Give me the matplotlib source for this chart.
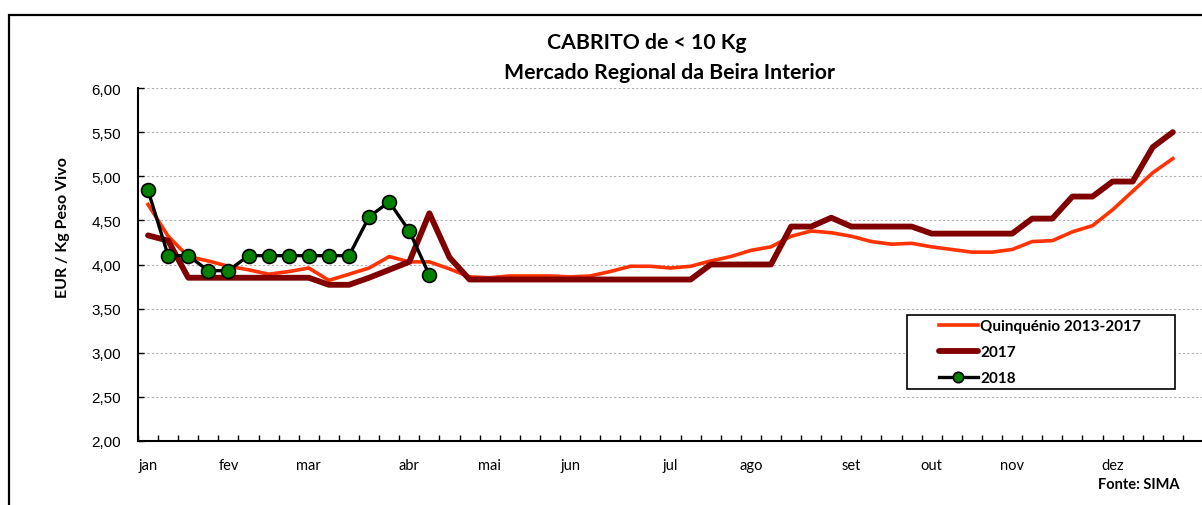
import matplotlib
matplotlib.use("Agg")
import matplotlib.pyplot as plt
from matplotlib.patches import Rectangle
from matplotlib.ticker import FuncFormatter, FixedLocator

# weekly prices (EUR / Kg peso vivo), week 1 .. 52
quinquenio = [4.68, 4.32, 4.09, 4.04, 3.98, 3.94, 3.89, 3.92, 3.96, 3.82,
              3.89, 3.96, 4.09, 4.03, 4.03, 3.95, 3.86, 3.85, 3.87, 3.87,
              3.87, 3.86, 3.87, 3.92, 3.98, 3.98, 3.96, 3.98, 4.04, 4.09,
              4.16, 4.20, 4.32, 4.38, 4.36, 4.32, 4.26, 4.23, 4.24, 4.20,
              4.17, 4.14, 4.14, 4.17, 4.26, 4.27, 4.37, 4.44, 4.62, 4.83,
              5.04, 5.20]
ano_2017 = [4.33, 4.27, 3.85, 3.85, 3.85, 3.85, 3.85, 3.85, 3.85, 3.77,
            3.77, 3.85, 3.94, 4.03, 4.58, 4.08, 3.83, 3.83, 3.83, 3.83,
            3.83, 3.83, 3.83, 3.83, 3.83, 3.83, 3.83, 3.83, 4.00, 4.00,
            4.00, 4.00, 4.43, 4.43, 4.53, 4.43, 4.43, 4.43, 4.43, 4.35,
            4.35, 4.35, 4.35, 4.35, 4.52, 4.52, 4.77, 4.77, 4.94, 4.94,
            5.33, 5.50]
ano_2018 = [4.84, 4.10, 4.10, 3.93, 3.93, 4.10, 4.10, 4.10, 4.10, 4.10,
            4.10, 4.54, 4.71, 4.38, 3.88]

n_weeks = 53
month_labels = ["jan", "fev", "mar", "abr", "mai", "jun",
                "jul", "ago", "set", "out", "nov", "dez"]
month_weeks = [0, 4, 8, 13, 17, 21, 26, 30, 35, 39, 43, 48]

W, H = 1202, 506
fig = plt.figure(figsize=(W / 100, H / 100), dpi=100)
ax = fig.add_axes([138 / W, 64 / H, 1065 / W, 353 / H])

# outer chart frame (right/bottom edges cut off like the original)
fig.patches.append(Rectangle((9 / W, -0.1), 1.2, 1.1 - 16 / H, transform=fig.transFigure,
                             fill=False, edgecolor="black", linewidth=1.6))

ax.plot(range(len(quinquenio)), quinquenio, color="#FF3300", lw=2.6,
        label="Quinquénio 2013-2017", zorder=3)
ax.plot(range(len(ano_2017)), ano_2017, color="#800000", lw=4.2,
        label="2017", zorder=4, solid_capstyle="round")
ax.plot(range(len(ano_2018)), ano_2018, color="black", lw=2.4, marker="o",
        markersize=10, markerfacecolor="#008000", markeredgecolor="black",
        markeredgewidth=1.2, label="2018", zorder=5)

ax.set_xlim(-0.5, n_weeks - 0.5)
ax.set_ylim(2.0, 6.0)
ax.set_yticks([2.0 + 0.5 * i for i in range(9)])
ax.yaxis.set_major_formatter(FuncFormatter(lambda v, p: f"{v:.2f}".replace(".", ",")))
ax.set_xticks(month_weeks)
ax.set_xticklabels(month_labels, fontfamily="Lato", fontsize=10.5)
ax.xaxis.set_minor_locator(FixedLocator([i - 0.5 for i in range(n_weeks + 1)]))
ax.tick_params(axis="x", which="major", length=0, pad=12)
ax.tick_params(axis="x", which="minor", direction="in", length=4, width=1)
ax.tick_params(axis="y", direction="in", length=4, width=1, labelsize=11, pad=12)
for lab in ax.get_yticklabels():
    lab.set_fontfamily("Liberation Sans")

ax.grid(axis="y", color="#b0b0b0", linestyle=(0, (2, 2)), linewidth=0.8)
ax.set_axisbelow(True)
for side in ["top", "right"]:
    ax.spines[side].set_visible(False)
for side in ["left", "bottom"]:
    ax.spines[side].set_linewidth(1.5)

bold = dict(fontfamily="Lato", fontweight="bold")
fig.text(647 / W, 1 - 43 / H, "CABRITO de < 10 Kg", ha="center", va="center",
         fontsize=15.3, **bold)
fig.text(670 / W, 1 - 73 / H, "Mercado Regional da Beira Interior", ha="center",
         va="center", fontsize=15.3, **bold)
fig.text(63 / W, 1 - 228 / H, "EUR / Kg Peso Vivo", rotation=90, ha="center",
         va="center", fontsize=11.5, **bold)
fig.text(1180 / W, 1 - 485 / H, "Fonte: SIMA", ha="right", va="center",
         fontsize=10.5, **bold)

# legend box drawn separately so padding matches the original
box = Rectangle((907 / W, 1 - 390 / H), 268 / W, 74 / H, transform=fig.transFigure,
                facecolor="white", edgecolor="black", linewidth=1.2, zorder=6,
                clip_on=False)
ax.add_artist(box)
leg = ax.legend(loc="upper left", bbox_to_anchor=(939 / W, 1 - 320 / H),
                bbox_transform=fig.transFigure, frameon=False,
                prop={"family": "Lato", "weight": "bold", "size": 11},
                handlelength=2.55, handletextpad=0.15, borderpad=0,
                labelspacing=0.8, borderaxespad=0)
leg.legend_handles[2].set_markersize(7.5)
leg.set_zorder(7)

fig.savefig("out.png", dpi=100)
